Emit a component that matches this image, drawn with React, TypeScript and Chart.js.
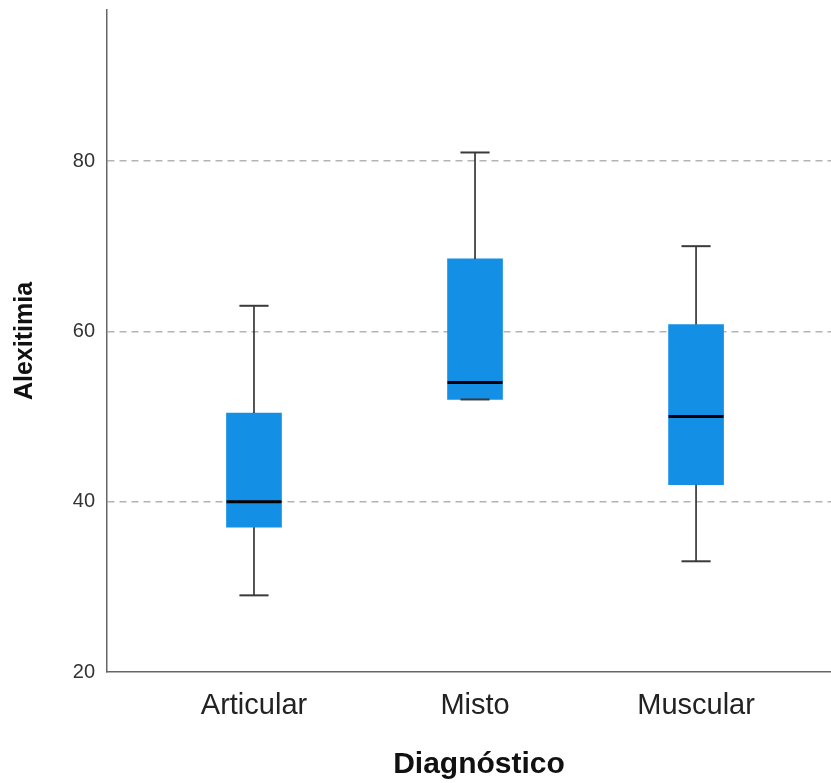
import React, { useEffect, useRef } from "react";
import { Chart, registerables } from "chart.js";

Chart.register(...registerables);

const categories = ["Articular", "Misto", "Muscular"];
const mins = [29, 52, 33];
const q1s = [37, 52, 42];
const medians = [40, 54, 50];
const q3s = [50.4, 68.5, 60.8];
const maxs = [63, 81, 70];
const yTicks = [20, 40, 60, 80];

const FONT = "'Liberation Sans', Arial, sans-serif";

const boxPlugin = {
  id: "boxWhiskers",
  afterDatasetsDraw(chart: any) {
    const { ctx, scales } = chart;
    const x = scales.x;
    const y = scales.y;
    const meta = chart.getDatasetMeta(0);
    const line = (x1: number, y1: number, x2: number, y2: number) => {
      ctx.beginPath();
      ctx.moveTo(x1, y1);
      ctx.lineTo(x2, y2);
      ctx.stroke();
    };
    ctx.save();
    categories.forEach((_, i) => {
      const cx = x.getPixelForValue(i);
      const el = meta.data[i];
      const half = el ? el.width / 2 : 27;
      const capHalf = half * 0.53;
      const yMin = y.getPixelForValue(mins[i]);
      const yQ1 = y.getPixelForValue(q1s[i]);
      const yMed = y.getPixelForValue(medians[i]);
      const yQ3 = y.getPixelForValue(q3s[i]);
      const yMax = y.getPixelForValue(maxs[i]);
      ctx.strokeStyle = "#2b2b2b";
      ctx.lineWidth = 1.6;
      line(cx, yMin, cx, yQ1);
      line(cx, yQ3, cx, yMax);
      ctx.lineWidth = 2;
      ctx.strokeStyle = "#3a3a3a";
      line(cx - capHalf, yMin, cx + capHalf, yMin);
      line(cx - capHalf, yMax, cx + capHalf, yMax);
      ctx.strokeStyle = "#000";
      ctx.lineWidth = 3;
      line(cx - half, yMed, cx + half, yMed);
    });
    ctx.restore();
  },
};

export default function App() {
  const ref = useRef<HTMLCanvasElement>(null);
  useEffect(() => {
    if (!ref.current) return;
    const chart = new Chart(ref.current, {
      type: "bar",
      data: {
        datasets: [
          {
            data: categories.map((_, i) => ({ x: i, y: [q1s[i], q3s[i]] })) as any,
            backgroundColor: "#148fe6",
            borderWidth: 0,
            barThickness: 55,
          },
        ],
      },
      options: {
        animation: false,
        responsive: false,
        layout: { padding: { top: 10, left: 0, right: 0, bottom: 0 } },
        plugins: {
          legend: { display: false },
          tooltip: { enabled: false },
        },
        scales: {
          x: {
            type: "linear",
            offset: false,
            min: -0.665,
            max: 2.701,
            afterBuildTicks: (s: any) => {
              s.ticks = categories.map((_, i) => ({ value: i }));
            },
            afterFit: (s: any) => {
              s.height = 111;
              s.paddingLeft = 0;
              s.paddingRight = 0;
            },
            grid: { display: false, offset: false },
            border: { display: true, color: "#666", width: 1.5 },
            ticks: {
              callback: (v: any) => categories[v] ?? "",
              font: { family: FONT, size: 29 },
              color: "#222",
              padding: 9,
              maxRotation: 0,
              autoSkip: false,
            },
            title: {
              display: true,
              text: "Diagnóstico",
              font: { family: FONT, size: 30, weight: "bold" },
              color: "#111",
              padding: { top: 0, bottom: 0 },
            },
          },
          y: {
            min: 20,
            max: 97.73,
            afterBuildTicks: (s: any) => {
              s.ticks = yTicks.map((v) => ({ value: v }));
            },
            afterFit: (s: any) => {
              s.width = 107;
              s.paddingTop = 0;
              s.paddingBottom = 0;
            },
            grid: {
              color: (c: any) => (c.tick && c.tick.value === 20 ? "rgba(0,0,0,0)" : "#b3b3b3"),
              lineWidth: 1.5,
              drawTicks: false,
            },
            border: { display: true, color: "#666", width: 1.5, dash: [7, 5] },
            ticks: {
              font: { family: FONT, size: 20 },
              color: "#333",
              padding: 12,
            },
            title: {
              display: true,
              text: "Alexitimia",
              font: { family: FONT, size: 25, weight: "bold" },
              color: "#111",
              padding: { top: 10, bottom: 0 },
            },
          },
        },
      },
      plugins: [boxPlugin],
    } as any);
    return () => chart.destroy();
  }, []);
  return (
    <div
      style={{
        position: "fixed",
        left: 0,
        top: 0,
        width: 831,
        height: 783,
        overflow: "hidden",
        background: "#fff",
      }}
    >
      <canvas ref={ref} width={851} height={783} style={{ display: "block" }} />
    </div>
  );
}
